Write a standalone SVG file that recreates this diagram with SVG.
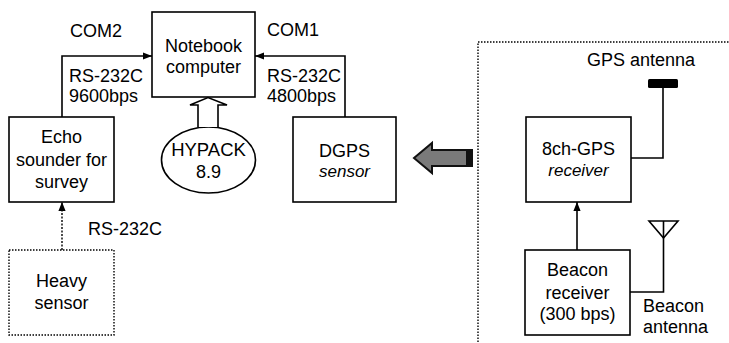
<svg xmlns="http://www.w3.org/2000/svg" width="729" height="343" viewBox="0 0 729 343">
<defs>
<style>
text{font-family:"Liberation Sans",Arial,sans-serif;font-size:18px;fill:#000}
.c{text-anchor:middle}
.i{font-style:italic;font-size:17px}
.box{fill:#fff;stroke:#000;stroke-width:1.6}
.dot{fill:none;stroke:#000;stroke-width:1.4;stroke-dasharray:1.5 1.5}
.ln{fill:none;stroke:#000;stroke-width:1.6}
</style>
<marker id="ah" viewBox="0 0 10 10" refX="10" refY="5" markerWidth="9" markerHeight="9" markerUnits="userSpaceOnUse" orient="auto">
<path d="M0,1 L10,5 L0,9 Z" fill="#000"/>
</marker>
</defs>
<rect width="729" height="343" fill="#fff"/>
<rect x="478" y="42" width="260" height="310" class="dot"/>
<g id="notebook"><rect x="152" y="12" width="103" height="85" class="box"/><text x="203.5" y="52" class="c">Notebook</text><text x="203.5" y="73" class="c">computer</text></g>
<g id="echo"><rect x="9" y="117" width="105" height="85" class="box"/><text x="61.5" y="143" class="c">Echo</text><text x="61.5" y="166" class="c">sounder for</text><text x="61.5" y="188" class="c">survey</text></g>
<g id="hypack"><ellipse cx="208.5" cy="160" rx="47" ry="33" class="box"/><text x="208.5" y="156" class="c" style="font-size:18.5px">HYPACK</text><text x="208.5" y="178" class="c">8.9</text></g>
<g id="dgps"><rect x="293" y="117" width="103" height="85" class="box"/><text x="344.5" y="157" class="c">DGPS</text><text x="344.5" y="177" class="c i">sensor</text></g>
<g id="heavy"><rect x="9" y="250" width="105" height="85" class="dot"/><text x="61.5" y="287" class="c">Heavy</text><text x="61.5" y="309" class="c">sensor</text></g>
<g id="gps"><rect x="526" y="117" width="105" height="85" class="box"/><text x="578.5" y="155" class="c">8ch-GPS</text><text x="578.5" y="176" class="c i">receiver</text></g>
<g id="beacon"><rect x="525" y="250" width="105" height="85" class="box"/><text x="577.5" y="276" class="c">Beacon</text><text x="577.5" y="299" class="c">receiver</text><text x="577.5" y="320" class="c">(300 bps)</text></g>
<g id="gps-antenna"><rect x="648" y="79" width="30" height="9" rx="1.5" fill="#000"/><text x="641" y="66" class="c">GPS antenna</text></g>
<g id="beacon-antenna"><path d="M649,221 L678,221 L663.5,238 Z" class="ln"/><text x="643" y="312">Beacon</text><text x="643" y="333">antenna</text></g>
<g id="connectors">
<path d="M62,117 V56 H152" class="ln" marker-end="url(#ah)"/>
<path d="M345,117 V56 H255" class="ln" marker-end="url(#ah)"/>
<path d="M62,250 V202" class="dot" marker-end="url(#ah)" style="stroke-dasharray:2 1.5"/>
<path d="M577,250 V202" class="ln" marker-end="url(#ah)"/>
<path d="M663,88 V158 H631" class="ln"/>
<path d="M663.5,221 V292 H630" class="ln"/>
<path d="M198,127 V105 H190 L208,97.5 L227,105 H218 V127" fill="#fff" stroke="#000" stroke-width="1.6"/>
<path d="M472,150 V166 H432 V173 L414,158 L432,143 V150 Z" fill="#7a7a7a" stroke="#111" stroke-width="2"/>
<rect x="466" y="150" width="6" height="16" fill="#111"/>
<text x="70" y="37">COM2</text>
<text x="69" y="82">RS-232C</text>
<text x="69" y="102">9600bps</text>
<text x="267" y="36">COM1</text>
<text x="267" y="82">RS-232C</text>
<text x="267" y="102">4800bps</text>
<text x="88" y="235">RS-232C</text>
</g>
</svg>
